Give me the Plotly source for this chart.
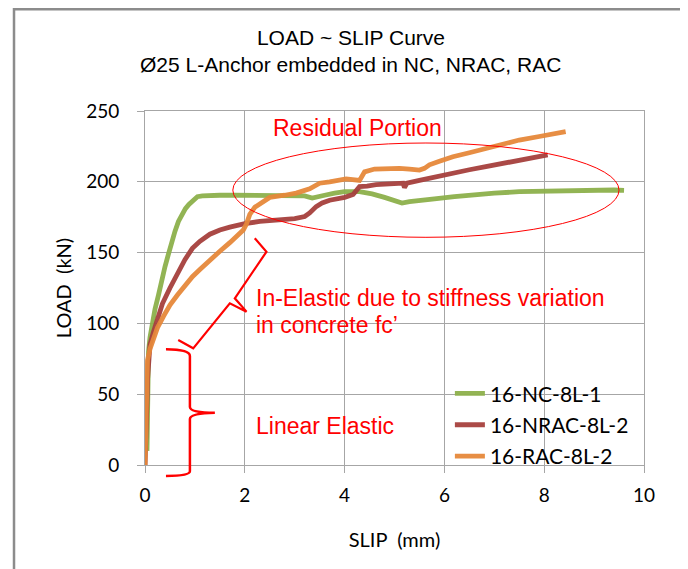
import plotly.graph_objects as go

# ---------------- data ----------------
series_names = ["16-NC-8L-1", "16-NRAC-8L-2", "16-RAC-8L-2"]

nc_slip = [0.04, 0.05, 0.04, 0.05, 0.07, 0.10, 0.14, 0.20, 0.27, 0.33, 0.40, 0.47, 0.53, 0.60, 0.67,
           0.74, 0.81, 0.88, 0.96, 1.05, 1.15, 1.30, 1.50, 1.80, 2.10, 2.50, 2.90, 3.20, 3.35, 3.45,
           3.60, 3.80, 4.00, 4.30, 4.55, 4.80, 5.00, 5.15, 5.30, 5.50, 5.80, 6.20, 6.60, 7.00, 7.50,
           8.00, 8.50, 9.00, 9.40, 9.60]
nc_load = [10, 30, 50, 68, 80, 90, 100, 110, 120, 130, 140, 149, 157, 165, 172,
           177, 181, 184, 187, 189.5, 190, 190.5, 190.5, 190.5, 190.5, 190.5, 190.5, 190, 188.5, 189,
           190.5, 192, 193, 193, 191.5, 189, 186.5, 185, 186, 187, 188, 189.5, 191, 192, 193,
           193.5, 194, 194, 194.2, 194]

nrac_slip = [0.00, 0.02, 0.03, 0.04, 0.05, 0.07, 0.10, 0.17, 0.25, 0.35, 0.50, 0.65, 0.80, 0.95, 1.10,
             1.30, 1.50, 1.70, 2.00, 2.30, 2.70, 3.00, 3.20, 3.30, 3.43, 3.55, 3.70, 3.85, 4.00, 4.17,
             4.25, 4.30, 4.45, 4.63, 4.90, 5.17, 5.20, 5.25, 5.50, 5.80, 6.17, 6.50, 6.83, 7.20, 7.50,
             7.80, 8.07]
nrac_load = [0, 15, 30, 45, 60, 75, 85, 94, 104, 114, 125, 135, 145, 153, 158,
             163, 166, 168, 170.5, 172, 173, 174, 175.5, 178, 182.5, 185, 187, 188, 189, 191,
             194, 196.6, 197, 198, 198.5, 199, 196, 199, 201, 203.5, 206, 208.5, 210.7, 213, 215.4,
             217, 219]

rac_slip = [0.00, 0.01, 0.02, 0.03, 0.05, 0.10, 0.17, 0.25, 0.37, 0.50, 0.65, 0.80, 0.95, 1.10, 1.30,
            1.50, 1.70, 1.85, 1.97, 2.03, 2.10, 2.20, 2.37, 2.50, 2.80, 3.03, 3.30, 3.50, 3.70, 4.03,
            4.30, 4.35, 4.40, 4.60, 4.83, 5.10, 5.30, 5.50, 5.60, 5.70, 5.90, 6.17, 6.50, 6.83, 7.20,
            7.50, 7.90, 8.20, 8.43]
rac_load = [0, 20, 40, 60, 74, 82, 90, 97, 105, 113, 120, 127, 133, 138, 145,
            151, 157, 162, 166, 170, 177, 182, 186, 189, 190.5, 192, 195, 199, 200, 202,
            201, 204, 207, 209, 209.5, 209.5, 209, 208.3, 209.5, 212, 214.5, 217.7, 220.5, 223.6, 226.5,
            229.5, 232, 234, 235.4]

x_ticks = [0, 2, 4, 6, 8, 10]
y_ticks = [0, 50, 100, 150, 200, 250]
X_MAX = 10
Y_MAX = 250

title_line1 = "LOAD ~ SLIP Curve"
title_line2 = "Ø25 L-Anchor embedded in NC, NRAC, RAC"

colors = ["#8DB04B", "#A6403D", "#E6883A"]

# ---------------- figure ----------------
fig = go.Figure()
for i, (xs, ys) in enumerate([(nc_slip, nc_load), (nrac_slip, nrac_load), (rac_slip, rac_load)]):
    fig.add_trace(go.Scatter(
        x=xs, y=ys, mode="lines", name=series_names[i], legendgroup=series_names[i],
        line=dict(color=colors[i], width=4.8), opacity=0.95,
    ))

grid = "#A6A6A6"
fig.update_layout(
    width=680, height=561,
    margin=dict(l=137, r=44, t=103, b=104),
    paper_bgcolor="white", plot_bgcolor="white",
    font=dict(family="Lato, Arial, sans-serif", color="black"),
    title=dict(
        text=title_line1,
        font=dict(family="Liberation Sans, Arial, sans-serif", size=21, color="black"),
        x=(137 + 0.4128 * 499) / 680, xanchor="center", xref="container",
        y=1 - 30 / 561, yanchor="middle", yref="container",
    ),
    xaxis=dict(
        range=[0, X_MAX], tickvals=x_ticks, ticktext=[str(v) for v in x_ticks],
        showgrid=True, gridcolor=grid, gridwidth=1, zeroline=False,
        showline=True, linecolor=grid, linewidth=1, mirror=True,
        ticks="outside", ticklen=7, tickcolor=grid, ticklabelstandoff=6,
        tickfont=dict(family="Lato, sans-serif", size=19, color="black"),
        title=dict(text="SLIP\u00a0 (mm)", font=dict(family="Lato, sans-serif", size=20, color="black"),
                   standoff=28),
    ),
    yaxis=dict(
        range=[0, Y_MAX], tickvals=y_ticks, ticktext=[str(v) for v in y_ticks],
        showgrid=True, gridcolor=grid, gridwidth=1, zeroline=False,
        showline=True, linecolor=grid, linewidth=1, mirror=True,
        ticks="outside", ticklen=7, tickcolor=grid, ticklabelstandoff=14,
        tickfont=dict(family="Lato, sans-serif", size=19, color="black"),
        title=dict(text="LOAD\u00a0 (kN)", font=dict(family="Lato, sans-serif", size=20, color="black"),
                   standoff=9),
    ),
    legend=dict(
        x=0.611, y=0.259, xanchor="left", yanchor="top",
        bgcolor="rgba(0,0,0,0)", borderwidth=0, tracegroupgap=1,
        font=dict(family="Lato, sans-serif", size=21, color="black"),
    ),
    showlegend=True,
)

red = "#FF0000"


def to_domain(pts):
    return [(x / X_MAX, y / Y_MAX) for x, y in pts]


def fmt(p):
    return f"{p[0]:.4f},{p[1]:.4f}"


# Linear elastic brace (vertical curly brace), defined in data units
lin = to_domain([(0.42, 81.7), (0.90, 81.5), (0.90, 77.0), (0.90, 41.0), (0.90, 37.0), (1.40, 36.9),
                 (0.90, 36.5), (0.90, 32.5), (0.90, -4.5), (0.90, -7.8), (0.42, -7.8)])
lin_path = (f"M {fmt(lin[0])} Q {fmt(lin[1])} {fmt(lin[2])} L {fmt(lin[3])} Q {fmt(lin[4])} {fmt(lin[5])} "
            f"Q {fmt(lin[6])} {fmt(lin[7])} L {fmt(lin[8])} Q {fmt(lin[9])} {fmt(lin[10])}")

# In-elastic brace (rotated)
ine = to_domain([(2.20, 160.1), (2.434, 150.6), (1.80, 117.7), (2.034, 108.3),
                 (1.70, 114.2), (0.966, 82.4), (0.666, 88.3)])
ine_path = "M " + " L ".join(fmt(p) for p in ine)

fig.add_shape(type="path", path=lin_path, xref="x domain", yref="y domain",
              line=dict(color=red, width=2.5))
fig.add_shape(type="path", path=ine_path, xref="x domain", yref="y domain",
              line=dict(color=red, width=2.2))
fig.add_shape(type="circle", xref="x", yref="y", x0=1.76, x1=9.5, y0=160.8, y1=227.4,
              line=dict(color=red, width=1))

# outer chart frame
fig.add_shape(type="rect", xref="paper", yref="paper",
              x0=-0.2625, x1=1.084, y0=-0.33, y1=1.2875,
              line=dict(color="#8C8C8C", width=2.5), layer="below")

# second title line
fig.add_annotation(text=title_line2, xref="paper", yref="paper", x=0.4128, y=(457 - 57) / 354,
                   showarrow=False, xanchor="center", yanchor="middle",
                   font=dict(family="Liberation Sans, Arial, sans-serif", size=21, color="black"))

ann_font = dict(family="Liberation Sans, Arial, sans-serif", size=23, color=red)
fig.add_annotation(text="Residual Portion", xref="x", yref="y", x=4.25, y=(465 - 127.5) / 1.416,
                   showarrow=False, font=ann_font, xanchor="center", yanchor="middle")
fig.add_annotation(text="In-Elastic due to stiffness variation", xref="x", yref="y", x=2.18,
                   y=(465 - 298) / 1.416, showarrow=False, font=ann_font, xanchor="left", yanchor="middle")
fig.add_annotation(text="in concrete fc’", xref="x", yref="y", x=2.18,
                   y=(465 - 325) / 1.416, showarrow=False, font=ann_font, xanchor="left", yanchor="middle")
fig.add_annotation(text="Linear Elastic", xref="x", yref="y", x=2.18,
                   y=(465 - 425.5) / 1.416, showarrow=False, font=ann_font, xanchor="left", yanchor="middle")

fig.write_html("out.html")
